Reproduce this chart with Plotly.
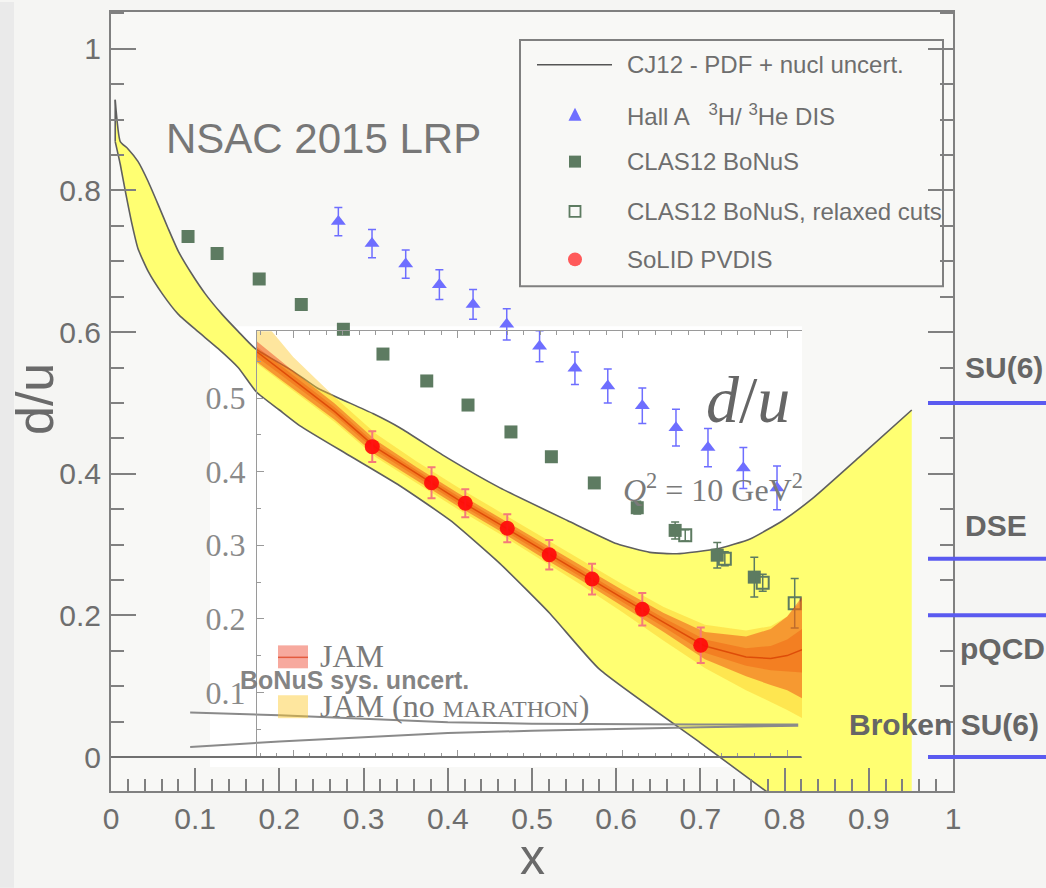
import plotly.graph_objects as go

# ---------------- data ----------------
# CJ12 d/u band (PDF + nuclear uncertainty)
cj12_x_upper = [0.005, 0.011, 0.020, 0.032, 0.044, 0.056, 0.068, 0.080, 0.096, 0.112, 0.132, 0.151,
                0.171, 0.216, 0.245, 0.272, 0.311, 0.343, 0.40, 0.462, 0.542, 0.601, 0.640, 0.672,
                0.720, 0.759, 0.798, 0.834, 0.89, 0.951]
cj12_upper = [0.928, 0.869, 0.859, 0.841, 0.813, 0.780, 0.746, 0.714, 0.682, 0.654, 0.625, 0.601,
              0.577, 0.545, 0.521, 0.506, 0.485, 0.465, 0.422, 0.380, 0.334, 0.301, 0.289, 0.287,
              0.294, 0.308, 0.334, 0.366, 0.425, 0.490]
cj12_x_lower = [0.005, 0.011, 0.017, 0.025, 0.032, 0.044, 0.061, 0.080, 0.103, 0.127, 0.151, 0.173,
                0.20, 0.224, 0.284, 0.343, 0.403, 0.462, 0.521, 0.58, 0.70, 0.78, 0.951]
cj12_lower = [0.869, 0.837, 0.799, 0.752, 0.718, 0.686, 0.654, 0.625, 0.601, 0.577, 0.550, 0.515,
              0.490, 0.468, 0.425, 0.383, 0.334, 0.273, 0.203, 0.124, 0.020, -0.050, -0.200]

# Hall A 3H/3He DIS
halla_x = [0.270, 0.310, 0.350, 0.390, 0.430, 0.470, 0.509, 0.551, 0.590, 0.631, 0.671, 0.709, 0.751, 0.791]
halla_y = [0.756, 0.725, 0.696, 0.667, 0.639, 0.611, 0.580, 0.549, 0.524, 0.496, 0.465, 0.437, 0.408, 0.380]
halla_err = [0.020, 0.020, 0.020, 0.021, 0.021, 0.022, 0.022, 0.023, 0.024, 0.025, 0.026, 0.027, 0.029, 0.031]

# CLAS12 BoNuS
bonus_x = [0.0915, 0.126, 0.176, 0.226, 0.276, 0.323, 0.375, 0.424, 0.475, 0.523, 0.574, 0.625, 0.670, 0.720, 0.764]
bonus_y = [0.735, 0.711, 0.675, 0.639, 0.604, 0.569, 0.531, 0.497, 0.459, 0.424, 0.387, 0.352, 0.320, 0.285, 0.254]
bonus_err = [0.004, 0.004, 0.004, 0.004, 0.004, 0.005, 0.005, 0.005, 0.006, 0.006, 0.007, 0.009, 0.012, 0.018, 0.028]

# CLAS12 BoNuS, relaxed cuts
relaxed_x = [0.682, 0.729, 0.774, 0.812]
relaxed_y = [0.313, 0.280, 0.246, 0.217]
relaxed_err = [0.008, 0.010, 0.012, 0.035]

# BoNuS systematic uncertainty envelope
sys_x = [0.094, 0.2, 0.3, 0.4, 0.5, 0.6, 0.7, 0.815]
sys_upper = [0.063, 0.059, 0.054, 0.049, 0.047, 0.046, 0.046, 0.046]
sys_lower = [0.014, 0.022, 0.028, 0.034, 0.037, 0.040, 0.042, 0.044]

# Model predictions at x -> 1
model_labels = ["SU(6)", "DSE", "pQCD", "Broken SU(6)"]
model_values = [0.5, 0.28, 0.2, 0.0]

# Inset: JAM d/u at Q^2 = 10 GeV^2
jam_x = [0.156, 0.20, 0.25, 0.30, 0.35, 0.40, 0.45, 0.50, 0.55, 0.60, 0.65, 0.70, 0.75, 0.78, 0.80, 0.818]
jam_mid = [0.563, 0.525, 0.482, 0.433, 0.397, 0.362, 0.329, 0.295, 0.262, 0.228, 0.195, 0.163, 0.148, 0.146, 0.150, 0.158]
jam_hi = [0.577, 0.537, 0.493, 0.443, 0.406, 0.371, 0.338, 0.305, 0.272, 0.239, 0.208, 0.182, 0.176, 0.186, 0.203, 0.230]
jam_lo = [0.549, 0.513, 0.471, 0.423, 0.388, 0.353, 0.320, 0.285, 0.252, 0.217, 0.182, 0.145, 0.122, 0.110, 0.103, 0.092]
jam_inner_hi = [0.570, 0.531, 0.488, 0.438, 0.402, 0.367, 0.334, 0.300, 0.267, 0.233, 0.201, 0.172, 0.160, 0.163, 0.172, 0.186]
jam_inner_lo = [0.556, 0.519, 0.477, 0.428, 0.392, 0.357, 0.324, 0.290, 0.257, 0.223, 0.189, 0.154, 0.136, 0.130, 0.128, 0.127]
nomar_hi = [0.615, 0.556, 0.502, 0.452, 0.414, 0.379, 0.346, 0.313, 0.280, 0.247, 0.216, 0.192, 0.184, 0.190, 0.203, 0.226]
nomar_lo = [0.547, 0.510, 0.468, 0.420, 0.384, 0.349, 0.316, 0.281, 0.246, 0.209, 0.170, 0.133, 0.103, 0.087, 0.076, 0.065]

# SoLID PVDIS projection
solid_x = [0.296, 0.368, 0.409, 0.460, 0.511, 0.563, 0.624, 0.695]
solid_y = [0.434, 0.385, 0.357, 0.323, 0.287, 0.254, 0.213, 0.164]
solid_err = [0.021, 0.021, 0.019, 0.019, 0.020, 0.021, 0.022, 0.024]

# ---------------- layout geometry ----------------
W, H = 1046, 888
ML, MR, MT, MB = 111, 93, 10, 97
PW, PH = W - ML - MR, H - MT - MB
X_RANGE = [0.0, 1.0]
Y_RANGE = [-0.048, 1.052]
INSET_X_RANGE = [0.156, 0.818]
INSET_Y_RANGE = [0.012, 0.591]


def px(xp):
    """page pixel -> paper x"""
    return (xp - ML) / PW


def py(yp):
    """page pixel -> paper y"""
    return (H - MB - yp) / PH


def yval(v):
    """main-axis value -> paper y"""
    return (v - Y_RANGE[0]) / (Y_RANGE[1] - Y_RANGE[0])


SANS = "Liberation Sans, Arial, sans-serif"
SERIF = "Liberation Serif, Times New Roman, serif"
GRAY = "#6e6e6e"
AXIS = "#808080"
YELLOW = "#ffff72"
EDGE = "#5f5f5f"
BLUE = "#6e6eff"
GREEN = "#5d7b61"

fig = go.Figure()

# CJ12 band: lower edge, then upper edge filled down to it
fig.add_trace(go.Scatter(
    x=cj12_x_lower, y=cj12_lower, mode="lines",
    line=dict(color=EDGE, width=1.6, shape="spline", smoothing=0.5),
    hoverinfo="skip", showlegend=False, xaxis="x", yaxis="y"))
fig.add_trace(go.Scatter(
    x=cj12_x_upper, y=cj12_upper, mode="lines", fill="tonexty", fillcolor=YELLOW,
    line=dict(color=EDGE, width=1.6, shape="spline", smoothing=0.5),
    hoverinfo="skip", showlegend=False, xaxis="x", yaxis="y"))
# short closing edge at the low-x end of the band
fig.add_trace(go.Scatter(
    x=[cj12_x_lower[0], cj12_x_upper[0]], y=[cj12_lower[0], cj12_upper[0]], mode="lines",
    line=dict(color=EDGE, width=1.6), hoverinfo="skip", showlegend=False, xaxis="x", yaxis="y"))

# BoNuS systematic envelope
fig.add_trace(go.Scatter(
    x=sys_x + sys_x[::-1], y=sys_upper + sys_lower[::-1],
    mode="lines", line=dict(color="#8a8a8a", width=2),
    hoverinfo="skip", showlegend=False, xaxis="x", yaxis="y"))

# CLAS12 BoNuS
fig.add_trace(go.Scatter(
    x=bonus_x, y=bonus_y, mode="markers",
    marker=dict(symbol="square", size=13, color=GREEN),
    error_y=dict(type="data", array=bonus_err, color=GREEN, thickness=1.5, width=4),
    showlegend=False, xaxis="x", yaxis="y"))
# CLAS12 BoNuS relaxed cuts
fig.add_trace(go.Scatter(
    x=relaxed_x, y=relaxed_y, mode="markers",
    marker=dict(symbol="square-open", size=12, color=GREEN, line=dict(width=2, color=GREEN)),
    error_y=dict(type="data", array=relaxed_err, color=GREEN, thickness=1.5, width=4),
    showlegend=False, xaxis="x", yaxis="y"))
# Hall A
fig.add_trace(go.Scatter(
    x=halla_x, y=halla_y, mode="markers",
    marker=dict(symbol="triangle-up", size=13, color=BLUE),
    error_y=dict(type="data", array=halla_err, color=BLUE, thickness=1.5, width=4),
    showlegend=False, xaxis="x", yaxis="y"))

# ----- inset traces -----
fig.add_trace(go.Scatter(
    x=jam_x + jam_x[::-1], y=nomar_hi + nomar_lo[::-1], mode="lines", fill="toself",
    fillcolor="rgba(252,200,40,0.45)", line=dict(width=0),
    hoverinfo="skip", showlegend=False, xaxis="x2", yaxis="y2"))
fig.add_trace(go.Scatter(
    x=jam_x + jam_x[::-1], y=jam_hi + jam_lo[::-1], mode="lines", fill="toself",
    fillcolor="rgba(235,30,0,0.38)", line=dict(width=0),
    hoverinfo="skip", showlegend=False, xaxis="x2", yaxis="y2"))
fig.add_trace(go.Scatter(
    x=jam_x + jam_x[::-1], y=jam_inner_hi + jam_inner_lo[::-1], mode="lines", fill="toself",
    fillcolor="rgba(235,70,0,0.3)", line=dict(width=0),
    hoverinfo="skip", showlegend=False, xaxis="x2", yaxis="y2"))
fig.add_trace(go.Scatter(
    x=jam_x, y=jam_mid, mode="lines", line=dict(color="rgba(215,60,0,0.75)", width=1.5),
    hoverinfo="skip", showlegend=False, xaxis="x2", yaxis="y2"))
fig.add_trace(go.Scatter(
    x=solid_x, y=solid_y, mode="markers",
    marker=dict(symbol="circle", size=15, color="rgba(255,10,10,0.92)"),
    error_y=dict(type="data", array=solid_err, color="#f47a7a", thickness=2, width=4),
    showlegend=False, xaxis="x2", yaxis="y2"))

# ---------------- shapes ----------------
shapes = []
# soft darker strip on the left page edge
shapes.append(dict(type="rect", xref="paper", yref="paper", x0=px(0), x1=px(14), y0=py(H), y1=py(0),
                   fillcolor="#eaeaea", line=dict(width=0), layer="below"))
# main plotting area background
shapes.append(dict(type="rect", xref="paper", yref="paper", x0=0, x1=1, y0=0, y1=1,
                   fillcolor="#f8f8f6", line=dict(width=0), layer="below"))
# inset canvas
shapes.append(dict(type="rect", xref="paper", yref="paper", x0=px(210), x1=px(802), y0=py(767), y1=py(325),
                   fillcolor="#ffffff", line=dict(width=0), layer="below"))
# zero line
shapes.append(dict(type="line", xref="x", yref="y", x0=0, x1=0.82, y0=0, y1=0,
                   line=dict(color="#707070", width=2), layer="above"))
# model prediction markers on the right
for v in model_values:
    shapes.append(dict(type="line", xref="paper", yref="paper", x0=px(928), x1=px(1050),
                       y0=yval(v), y1=yval(v), line=dict(color="#5a5af0", width=4)))

# main legend box and samples
shapes.append(dict(type="rect", xref="paper", yref="paper", x0=px(520), x1=px(943), y0=py(285), y1=py(38),
                   line=dict(color=AXIS, width=2)))
shapes.append(dict(type="line", xref="paper", yref="paper", x0=px(537), x1=px(612), y0=py(63), y1=py(63),
                   line=dict(color="#555555", width=1.5)))
tri = "M {:.5f} {:.5f} L {:.5f} {:.5f} L {:.5f} {:.5f} Z".format(
    px(568.5), py(119), px(581.5), py(119), px(575), py(106))
shapes.append(dict(type="path", xref="paper", yref="paper", path=tri, fillcolor=BLUE, line=dict(width=0)))
shapes.append(dict(type="rect", xref="paper", yref="paper", x0=px(569), x1=px(581), y0=py(166), y1=py(154),
                   fillcolor=GREEN, line=dict(width=0)))
shapes.append(dict(type="rect", xref="paper", yref="paper", x0=px(569.5), x1=px(580.5), y0=py(215.5), y1=py(204.5),
                   line=dict(color=GREEN, width=1.8)))
shapes.append(dict(type="circle", xref="paper", yref="paper", x0=px(568), x1=px(582), y0=py(265), y1=py(251),
                   fillcolor="#ff5a5a", line=dict(width=0)))

# inset legend swatches
shapes.append(dict(type="rect", xref="paper", yref="paper", x0=px(278), x1=px(308), y0=py(668), y1=py(645),
                   fillcolor="rgba(235,30,0,0.38)", line=dict(width=0)))
shapes.append(dict(type="line", xref="paper", yref="paper", x0=px(278), x1=px(308), y0=py(657), y1=py(657),
                   line=dict(color="rgba(215,40,0,0.6)", width=1.5)))
shapes.append(dict(type="rect", xref="paper", yref="paper", x0=px(278), x1=px(308), y0=py(718), y1=py(695),
                   fillcolor="rgba(252,200,40,0.45)", line=dict(width=0)))

# ---------------- annotations ----------------
ann = []


def text(xp, yp, s, size, family=SANS, color=GRAY, xanchor="left", angle=0, yanchor="middle"):
    ann.append(dict(x=px(xp), y=py(yp), xref="paper", yref="paper", text=s, showarrow=False,
                    xanchor=xanchor, yanchor=yanchor, textangle=angle,
                    font=dict(family=family, size=size, color=color)))


legend_labels = ["CJ12 - PDF + nucl uncert.",
                 "Hall A   <sup>3</sup>H/ <sup>3</sup>He DIS",
                 "CLAS12 BoNuS",
                 "CLAS12 BoNuS, relaxed cuts",
                 "SoLID PVDIS"]
for lab, yp in zip(legend_labels, [63, 113, 160, 210, 258]):
    text(625, yp, lab, 24)

text(164, 137, "NSAC 2015 LRP", 42, color="#777777")

# model labels on the right
label_pos = {"SU(6)": (963, 366), "DSE": (963, 525), "pQCD": (958, 648), "Broken SU(6)": (847, 724)}
for lab in model_labels:
    xp, yp = label_pos[lab]
    text(xp, yp, "<b>" + lab + "</b>", 30, color="#666666")

# inset texts
text(748, 398, "<i>d</i>/<i>u</i>", 66, family=SERIF, color="#666666", xanchor="center")
text(713, 487, "<i>Q</i><sup>2</sup> = 10 GeV<sup>2</sup>", 32, family=SERIF, color="#7a7a7a", xanchor="center")
text(318, 656, "JAM", 32, family=SERIF, color="#7a7a7a")
text(318, 706, "JAM (no <span style='font-size:24px'>MARATHON</span>)", 32, family=SERIF, color="#7a7a7a")
text(238, 680, "<b>BoNuS sys. uncert.</b>", 25, color="rgba(110,110,110,0.85)")

# axis titles
text(35, 398, "d/u", 52, color="#6a6a6a", xanchor="center", angle=-90)
text(532, 887, "x", 50, color="#6a6a6a", xanchor="center", yanchor="bottom")

fig.update_layout(
    width=W, height=H, autosize=False,
    margin=dict(l=ML, r=MR, t=MT, b=MB, pad=0),
    paper_bgcolor="#f5f5f3", plot_bgcolor="rgba(0,0,0,0)",
    showlegend=False,
    shapes=shapes, annotations=ann,
    xaxis=dict(domain=[0, 1], range=X_RANGE, showgrid=False, zeroline=False,
               showline=True, linecolor=AXIS, linewidth=2, mirror=True,
               ticks="inside", ticklen=23, tickwidth=2, tickcolor=AXIS, dtick=0.1, tick0=0,
               minor=dict(dtick=0.02, ticks="inside", ticklen=12, tickwidth=2, tickcolor=AXIS),
               tickfont=dict(family=SANS, size=30, color=GRAY), ticklabelstandoff=0),
    yaxis=dict(domain=[0, 1], range=Y_RANGE, showgrid=False, zeroline=False,
               showline=True, linecolor=AXIS, linewidth=2, mirror="ticks",
               ticks="inside", ticklen=25, tickwidth=2, tickcolor=AXIS, dtick=0.2, tick0=0,
               minor=dict(dtick=0.05, ticks="inside", ticklen=13, tickwidth=2, tickcolor=AXIS),
               tickfont=dict(family=SANS, size=30, color=GRAY), ticklabelstandoff=2),
    xaxis2=dict(domain=[px(257), px(802)], range=INSET_X_RANGE, anchor="y2",
                showgrid=False, zeroline=False, showline=True, linecolor="#9a9a9a", linewidth=1,
                mirror="ticks", ticks="inside", ticklen=7, tickwidth=1, tickcolor="#9a9a9a",
                dtick=0.2, tick0=0, showticklabels=False,
                minor=dict(dtick=0.02, ticks="inside", ticklen=4, tickwidth=1, tickcolor="#9a9a9a")),
    yaxis2=dict(domain=[py(757), py(330)], range=INSET_Y_RANGE, anchor="x2",
                showgrid=False, zeroline=False, showline=True, linecolor="#9a9a9a", linewidth=1,
                ticks="inside", ticklen=7, tickwidth=1, tickcolor="#9a9a9a", dtick=0.1, tick0=0,
                minor=dict(dtick=0.05, ticks="inside", ticklen=4, tickwidth=1, tickcolor="#9a9a9a"),
                tickfont=dict(family=SERIF, size=32, color="#8a8a8a"), ticklabelstandoff=4),
)

fig.write_html("out.html")
